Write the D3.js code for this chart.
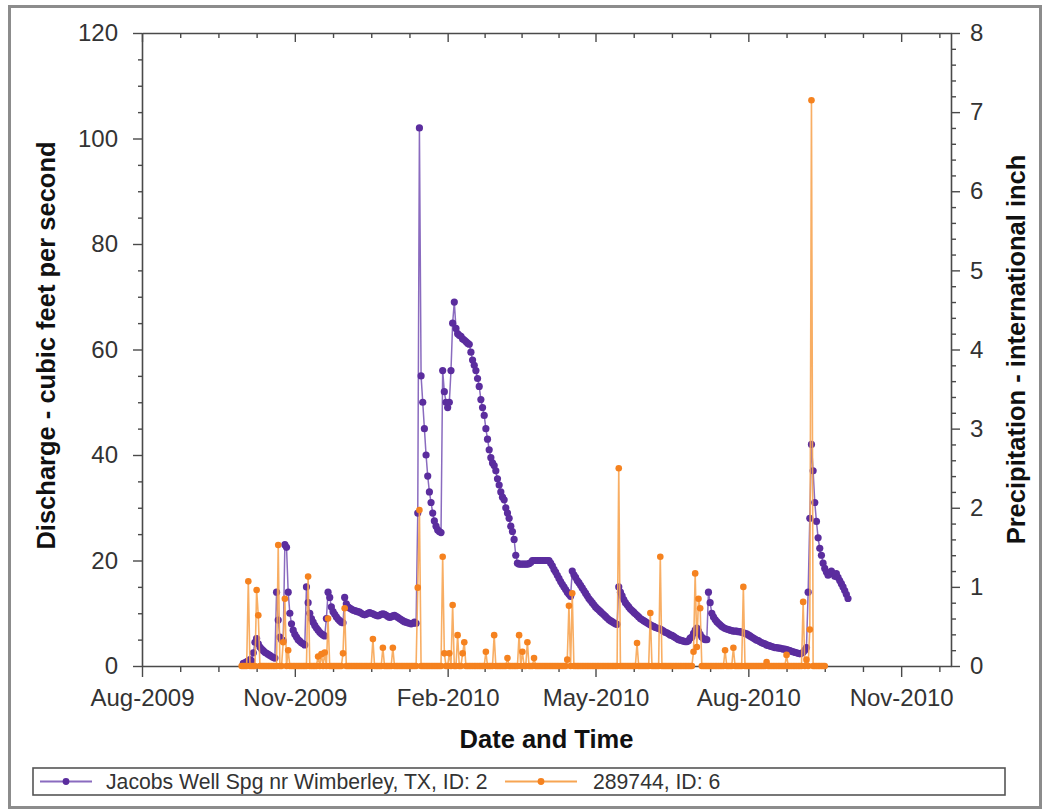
<!DOCTYPE html>
<html>
<head>
<meta charset="utf-8">
<script src="https://cdn.jsdelivr.net/npm/d3@7"></script>
<style>
  html, body { margin: 0; padding: 0; background: #ffffff; }
  svg { display: block; }
  text { font-family: "Liberation Sans", Arial, sans-serif; }
</style>
</head>
<body>
<svg id="chart" width="1047" height="810"></svg>
<script>
// ---------------- DATA ----------------
// Daily discharge (cfs), Jacobs Well Spg nr Wimberley, TX, starting 2009-10-01
const dischargeStart = "2009-10-01";
const dischargeValues = [
  0.5, 0.6, 0.8, 1.0, 1.2, 1.0, 2.5, 4.5, 5.2, 4.2,
  3.6, 3.2, 2.9, 2.6, 2.4, 2.2, 2.0, 1.8, 1.6, 1.5,
  14, 8.7, 5.5, 5.0, 4.8, 23, 22.5, 14, 10, 8,
  6.8, 6.0, 5.5, 5.0, 4.7, 4.4, 4.2, 4.0, 15, 12,
  10, 9, 8.3, 7.7, 7.2, 6.8, 6.4, 6.1, 5.9, 5.7,
  9, 14, 13, 11.2, 10.3, 9.8, 9.3, 8.9, 8.6, 8.3,
  8.2, 13, 11.8, 11.2, 11.0, 10.8, 10.6, 10.5, 10.4, 10.3,
  10.2, 10.0, 9.8, 9.7, 9.8, 10.0, 10.1, 10.0, 9.9, 9.7,
  9.6, 9.5, 9.6, 9.8, 9.9, 9.8, 9.6, 9.4, 9.2, 9.3,
  9.5, 9.6, 9.4, 9.2, 9.0, 8.8, 8.6, 8.4, 8.3, 8.2,
  8.1, 8.0, 8.1, 8.3, 8.1, 29, 102, 55, 50, 45,
  40, 36, 33, 31, 29, 27.5, 26.5, 25.8, 25.5, 25.3,
  56, 52, 50, 49, 50, 56, 65, 69, 64, 63,
  62.7, 62.5, 62, 61.8, 61.5, 61.2, 61, 59.5, 58, 57,
  56, 54.5, 53, 50.5, 49, 47.5, 45, 43, 41, 39.5,
  38.5, 38, 37, 35.5, 34.3, 33, 32, 31.5, 30, 29,
  28, 26.5, 25.5, 24, 21, 19.5, 19.3, 19.3, 19.3, 19.3,
  19.3, 19.3, 19.4, 19.6, 20, 20, 20, 20, 20, 20,
  20, 20, 20, 20, 20, 19.5, 19, 18.3, 17.8, 17.2,
  16.6, 16, 15.5, 15, 14.5, 14, 13.6, 13.2, 18, 17.3,
  16.8, 16.2, 15.8, 15.3, 14.8, 14.3, 13.8, 13.3, 12.8, 12.4,
  12, 11.6, 11.2, 10.9, 10.6, 10.3, 10.0, 9.7, 9.4, 9.1,
  8.8, 8.6, 8.4, 8.2, 8.0, 7.9, 15, 14, 13.3, 12.6,
  12.0, 11.6, 11.2, 10.8, 10.5, 10.2, 9.9, 9.6, 9.3, 9.0,
  8.8, 8.6, 8.4, 8.2, 8.0, 7.8, 7.6, 7.5, 7.3, 7.2,
  7.1, 7.0, 6.8, 6.6, 6.4, 6.3, 6.1, 5.9, 5.8, 5.6,
  5.4, 5.2, 5.0, 4.9, 4.8, 4.7, 4.6, 4.6, 4.8, 5.3,
  5.5, 6.2, 6.8, 7.2, 6.6, 6.0, 5.5, 5.2, 5.0, 5.0,
  14, 12, 10, 9.3, 8.8, 8.4, 8.1, 7.8, 7.5, 7.3,
  7.1, 7.0, 6.9, 6.8, 6.7, 6.6, 6.6, 6.6, 6.5, 6.5,
  6.4, 6.3, 6.2, 6.1, 5.9, 5.7, 5.5, 5.3, 5.1, 4.9,
  4.8, 4.6, 4.4, 4.3, 4.2, 4.0, 3.9, 3.8, 3.7, 3.6,
  3.5, 3.5, 3.4, 3.4, 3.3, 3.2, 3.2, 3.1, 3.0, 2.9,
  2.8, 2.7, 2.6, 2.5, 2.4, 2.3, 2.4, 2.6, 3.0, 3.5,
  14, 28, 42, 37, 31, 27.4, 24.3, 22.3, 21, 19.5,
  18.5, 17.8, 17.2, 17.5, 18, 17.5, 17, 17.5, 16.8, 16.2,
  15.6, 15, 14.3, 13.6, 12.8
];

// Daily precipitation (inches), gauge 289744: record span and the days with rain (all other days read 0)
const precipFirstDay = "2009-09-30";
const precipLastDay = "2010-09-16";
const rainDates = [
  "2009-10-04","2009-10-09","2009-10-10","2009-10-22","2009-10-25","2009-10-26","2009-10-28",
  "2009-11-09","2009-11-15","2009-11-17","2009-11-19","2009-11-21","2009-11-30",
  "2009-12-01","2009-12-18","2009-12-24","2009-12-30",
  "2010-01-14","2010-01-15","2010-01-29","2010-01-30",
  "2010-02-02","2010-02-04","2010-02-07","2010-02-10","2010-02-11","2010-02-24",
  "2010-03-01","2010-03-09","2010-03-16","2010-03-18","2010-03-21","2010-03-25",
  "2010-04-14","2010-04-15","2010-04-17",
  "2010-05-15","2010-05-26",
  "2010-06-03","2010-06-09","2010-06-29","2010-06-30",
  "2010-07-01","2010-07-02","2010-07-03","2010-07-18","2010-07-23","2010-07-29",
  "2010-08-12","2010-08-24",
  "2010-09-03","2010-09-05","2010-09-07","2010-09-08"
];
const rainValues = [
  1.07, 0.96, 0.64, 1.53, 0.3, 0.85, 0.2,
  1.13, 0.12, 0.15, 0.17, 0.6, 0.16,
  0.73, 0.34, 0.23, 0.23,
  0.99, 1.97, 1.38, 0.16,
  0.16, 0.77, 0.39, 0.16, 0.3, 0.18,
  0.39, 0.1, 0.39, 0.18, 0.3, 0.1,
  0.08, 0.76, 0.92,
  2.5, 0.29,
  0.67, 1.38, 0.18, 1.17,
  0.24, 0.85, 0.73, 0.2, 0.23, 1.0,
  0.05, 0.14,
  0.81, 0.08, 0.46, 7.15
];

// Axes
const xDomain = ["2009-08-01", "2010-12-01"];
const xTickDates = ["2009-08-01","2009-11-01","2010-02-01","2010-05-01","2010-08-01","2010-11-01"];
const leftTicks = [0, 20, 40, 60, 80, 100, 120];
const rightTicks = [0, 1, 2, 3, 4, 5, 6, 7, 8];
const leftMax = 120, rightMax = 8;

const seriesNames = ["Jacobs Well Spg nr Wimberley, TX, ID: 2", "289744, ID: 6"];
const xTitle = "Date and Time";
const yLeftTitle = "Discharge - cubic feet per second";
const yRightTitle = "Precipitation - international inch";

// ---------------- BUILD ----------------
const parse = d3.utcParse("%Y-%m-%d");
const day = 864e5;

const dStart = parse(dischargeStart);
const discharge = dischargeValues.map((v, i) => ({ date: new Date(+dStart + i * day), v }));

const rainMap = new Map(rainDates.map((d, i) => [d, rainValues[i]]));
const fmtKey = d3.utcFormat("%Y-%m-%d");
const precip = d3.utcDay.range(parse(precipFirstDay), d3.utcDay.offset(parse(precipLastDay), 1))
  .map(d => ({ date: d, v: rainMap.get(fmtKey(d)) || 0 }));

const svg = d3.select("#chart");
const M = { left: 142, right: 951, top: 33, bottom: 666 };

const x = d3.scaleUtc().domain(xDomain.map(parse)).range([M.left, M.right]);
const yL = d3.scaleLinear().domain([0, leftMax]).range([M.bottom, M.top]);
const yR = d3.scaleLinear().domain([0, rightMax]).range([M.bottom, M.top]);

// outer frame
svg.append("rect").attr("x", 9.5).attr("y", 6.5).attr("width", 1031).attr("height", 801)
  .attr("fill", "#ffffff").attr("stroke", "#8c8c8c").attr("stroke-width", 3);

const axisColor = "#4a4a4a";
const tickFont = "24px";

// minor tick dates: each major interval split in four
const majors = xTickDates.map(parse);
const minorDates = [];
for (let i = 0; i < majors.length; i++) {
  const a = +majors[i];
  const b = i < majors.length - 1 ? +majors[i + 1] : +d3.utcMonth.offset(majors[i], 3);
  for (let k = 1; k < 4; k++) {
    const t = new Date(a + (b - a) * k / 4);
    if (t <= x.domain()[1]) minorDates.push(t);
  }
}

function styleAxis(g) {
  g.select(".domain").attr("stroke", axisColor).attr("stroke-width", 1.6);
  g.selectAll(".tick line").attr("stroke", axisColor).attr("stroke-width", 1.4);
  g.selectAll(".tick text").attr("fill", "#333").style("font-size", tickFont)
    .style("font-family", '"Liberation Sans", Arial, sans-serif');
}

// bottom axis
svg.append("g").attr("transform", `translate(0,${M.bottom})`)
  .call(d3.axisBottom(x).tickValues(minorDates).tickFormat("").tickSize(6).tickSizeOuter(0))
  .call(styleAxis).call(g => g.select(".domain").remove());
svg.append("g").attr("transform", `translate(0,${M.bottom})`)
  .call(d3.axisBottom(x).tickValues(majors).tickFormat(d3.utcFormat("%b-%Y")).tickSize(11).tickPadding(12).tickSizeOuter(0))
  .call(styleAxis);

// top axis (ticks inward)
svg.append("g").attr("transform", `translate(0,${M.top})`)
  .call(d3.axisTop(x).tickValues(minorDates).tickFormat("").tickSize(-5).tickSizeOuter(0))
  .call(styleAxis).call(g => g.select(".domain").remove());
svg.append("g").attr("transform", `translate(0,${M.top})`)
  .call(d3.axisTop(x).tickValues(majors).tickFormat("").tickSize(-9).tickSizeOuter(0))
  .call(styleAxis);

// left axis
const leftMinor = d3.range(5, leftMax, 5).filter(v => v % 20 !== 0);
svg.append("g").attr("transform", `translate(${M.left},0)`)
  .call(d3.axisLeft(yL).tickValues(leftMinor).tickFormat("").tickSize(4).tickSizeOuter(0))
  .call(styleAxis).call(g => g.select(".domain").remove());
svg.append("g").attr("transform", `translate(${M.left},0)`)
  .call(d3.axisLeft(yL).tickValues(leftTicks).tickSize(9).tickPadding(15).tickSizeOuter(0))
  .call(styleAxis);

// right axis
const rightMinor = d3.range(1, rightMax * 5).map(i => i / 5).filter(v => Math.abs(v - Math.round(v)) > 1e-6);
svg.append("g").attr("transform", `translate(${M.right},0)`)
  .call(d3.axisRight(yR).tickValues(rightMinor).tickFormat("").tickSize(5).tickSizeOuter(0))
  .call(styleAxis).call(g => g.select(".domain").remove());
svg.append("g").attr("transform", `translate(${M.right},0)`)
  .call(d3.axisRight(yR).tickValues(rightTicks).tickSize(9).tickPadding(10).tickSizeOuter(0))
  .call(styleAxis);

// series colors
const purple = "#5b2d9e", purpleLine = "#8a6bbf";
const orange = "#f5821f", orangeLine = "#f7a553";

// discharge
const plot = svg.append("g");
plot.append("path").datum(discharge)
  .attr("d", d3.line().x(d => x(d.date)).y(d => yL(d.v)))
  .attr("fill", "none").attr("stroke", purpleLine).attr("stroke-width", 1.5);
plot.append("g").selectAll("circle").data(discharge).join("circle")
  .attr("cx", d => x(d.date)).attr("cy", d => yL(d.v)).attr("r", 3.6).attr("fill", purple);

// precipitation
plot.append("path").datum(precip)
  .attr("d", d3.line().x(d => x(d.date)).y(d => yR(d.v)))
  .attr("fill", "none").attr("stroke", orangeLine).attr("stroke-width", 1.6).attr("stroke-opacity", 0.9);
plot.append("g").selectAll("circle").data(precip).join("circle")
  .attr("cx", d => x(d.date)).attr("cy", d => yR(d.v)).attr("r", 3.3).attr("fill", orange);

// titles
const titleSize = "25.5px";
svg.append("text").attr("x", (M.left + M.right) / 2).attr("y", 748).attr("text-anchor", "middle")
  .style("font-size", titleSize).style("font-weight", "bold").attr("fill", "#111").text(xTitle);
svg.append("text").attr("transform", `translate(55,${(M.top + M.bottom) / 2 - 4}) rotate(-90)`)
  .attr("text-anchor", "middle").style("font-size", titleSize).style("font-weight", "bold").attr("fill", "#111")
  .text(yLeftTitle);
svg.append("text").attr("transform", `translate(1025,${(M.top + M.bottom) / 2}) rotate(-90)`)
  .attr("text-anchor", "middle").style("font-size", titleSize).style("font-weight", "bold").attr("fill", "#111")
  .text(yRightTitle);

// legend
const lg = svg.append("g");
lg.append("rect").attr("x", 33).attr("y", 768).attr("width", 972).attr("height", 27)
  .attr("fill", "#fff").attr("stroke", "#555").attr("stroke-width", 1.6);
const legendItems = [
  { name: seriesNames[0], c: purple, lc: purpleLine, x0: 40, x1: 92, tx: 106 },
  { name: seriesNames[1], c: orange, lc: orangeLine, x0: 505, x1: 577, tx: 593 }
];
legendItems.forEach(it => {
  lg.append("line").attr("x1", it.x0).attr("x2", it.x1).attr("y1", 781.5).attr("y2", 781.5)
    .attr("stroke", it.lc).attr("stroke-width", 2);
  lg.append("circle").attr("cx", (it.x0 + it.x1) / 2).attr("cy", 781.5).attr("r", 3.4).attr("fill", it.c);
  lg.append("text").attr("x", it.tx).attr("y", 789).style("font-size", "21.2px").attr("fill", "#333").text(it.name);
});
</script>
</body>
</html>
